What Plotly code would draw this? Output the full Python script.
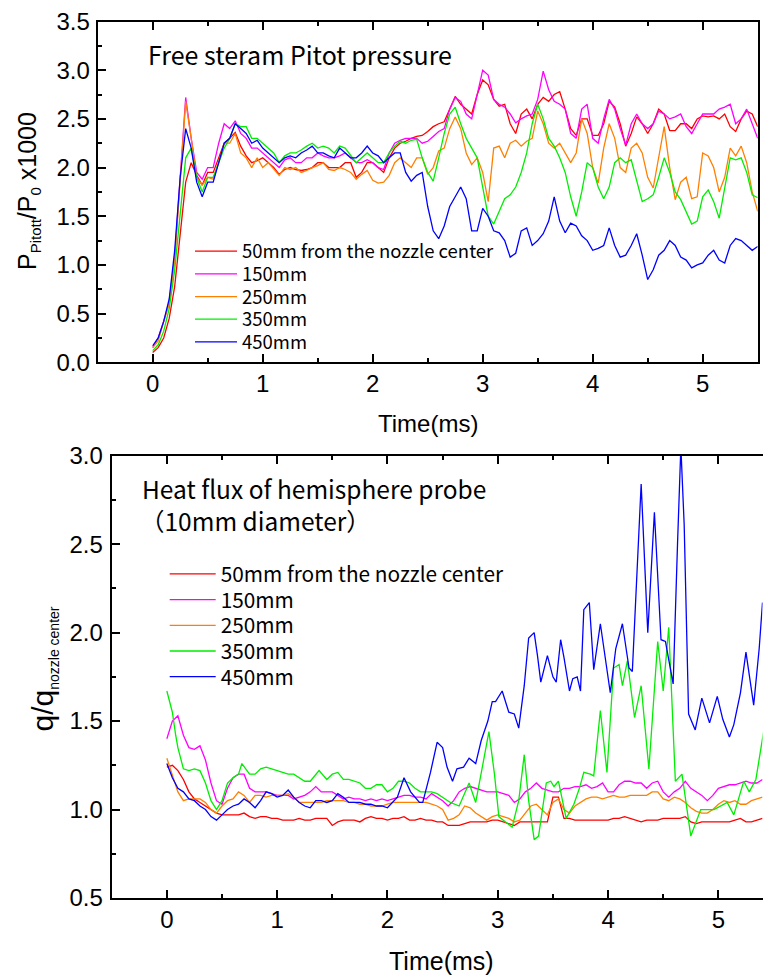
import plotly.graph_objects as go

W, H = 763, 977

# ---------------- data: top panel (Pitot pressure, x1000) ----------------
T_STEP = 0.05
p_50 = [0.10,0.15,0.25,0.45,0.78,1.30,1.85,2.05,1.92,1.82,1.95,1.95,2.10,2.25,2.30,2.36,2.22,2.12,2.05,2.07,
        2.10,2.05,2.00,1.93,1.98,2.00,1.98,1.97,1.98,2.00,2.05,2.05,2.00,2.00,2.00,2.05,2.05,1.90,1.95,2.05,
        2.05,2.00,
        1.95,2.10,2.20,2.25,2.27,2.30,2.32,2.33,2.37,2.42,2.45,2.47,2.60,2.73,2.65,2.60,2.55,2.75,2.90,2.85,
        2.70,2.63,2.65,2.45,2.35,2.55,2.60,2.50,2.65,2.72,2.68,2.75,2.78,2.60,2.40,2.33,2.50,2.50,2.33,2.33,
        2.45,2.68,2.62,2.45,2.22,2.35,2.52,2.45,2.35,2.45,2.60,2.55,2.38,2.38,2.45,2.45,2.40,2.50,2.53,2.52,
        2.53,2.50,2.55,2.42,2.37,2.50,2.58,2.55,2.42]
p_150 = [0.15,0.25,0.42,0.62,1.08,1.95,2.72,2.30,1.95,1.88,2.00,2.00,2.25,2.45,2.40,2.48,2.35,2.30,2.20,2.20,
         2.15,2.10,2.05,2.00,2.08,2.10,2.05,2.05,2.10,2.10,2.15,2.12,2.10,2.10,2.12,2.15,2.10,2.05,2.05,2.08,
         2.05,2.00,
         1.98,2.15,2.25,2.28,2.30,2.30,2.30,2.25,2.27,2.32,2.37,2.40,2.60,2.72,2.68,2.55,2.50,2.75,3.00,2.95,
         2.70,2.65,2.62,2.55,2.46,2.50,2.53,2.55,2.70,2.99,2.80,2.68,2.65,2.60,2.35,2.30,2.60,2.65,2.30,2.25,
         2.50,2.70,2.60,2.40,2.23,2.45,2.55,2.45,2.40,2.45,2.58,2.55,2.50,2.52,2.55,2.42,2.35,2.45,2.55,2.55,
         2.55,2.60,2.62,2.65,2.45,2.50,2.60,2.45,2.30]
p_250 = [0.15,0.22,0.42,0.60,1.05,1.85,2.68,2.30,1.90,1.82,1.90,1.88,2.05,2.25,2.25,2.35,2.15,2.10,2.00,2.10,
         2.00,2.05,1.98,1.92,2.00,1.98,2.00,1.95,1.97,2.00,2.02,2.05,1.98,1.97,2.00,1.98,1.95,1.88,1.93,1.97,
         1.87,1.84,
         1.85,1.92,2.05,2.10,2.05,2.00,2.10,2.10,1.93,2.00,2.17,2.20,2.40,2.52,2.40,2.15,2.03,2.10,1.95,1.65,
         2.20,2.22,2.10,2.25,2.28,2.22,2.27,2.30,2.58,2.45,2.25,2.20,2.25,2.15,2.05,2.15,2.50,2.35,2.00,1.84,
         2.20,2.45,2.30,2.00,1.95,2.20,2.25,2.15,1.90,1.79,2.10,2.42,2.00,1.67,1.85,1.90,1.68,1.70,2.15,2.12,
         2.00,1.75,1.90,2.20,2.12,2.22,2.05,1.75,1.55]
p_350 = [0.12,0.18,0.32,0.55,0.95,1.55,2.10,2.20,1.90,1.75,1.90,1.90,2.05,2.20,2.30,2.45,2.42,2.42,2.30,2.30,
         2.25,2.20,2.15,2.05,2.12,2.15,2.15,2.18,2.22,2.25,2.20,2.22,2.20,2.15,2.22,2.20,2.12,2.05,2.10,2.15,
         2.10,2.05,
         2.05,2.15,2.22,2.27,2.25,2.28,2.29,2.10,1.95,1.86,2.10,2.35,2.55,2.62,2.45,2.30,2.20,2.10,1.80,1.50,
         1.42,1.55,1.68,1.72,1.80,1.95,2.15,2.45,2.65,2.50,2.30,2.22,2.10,1.95,1.70,1.50,1.75,2.05,2.00,1.80,
         1.68,1.80,2.05,2.10,2.05,2.08,1.85,1.65,1.68,1.72,1.90,2.10,1.95,1.75,1.67,1.55,1.42,1.45,1.70,1.77,
         1.65,1.48,1.80,2.10,2.08,2.10,1.95,1.72,1.69]
p_450 = [0.17,0.25,0.42,0.65,1.15,1.90,2.40,2.20,1.85,1.70,1.85,1.85,2.05,2.25,2.30,2.45,2.40,2.35,2.25,2.28,
         2.20,2.15,2.10,2.05,2.10,2.12,2.10,2.15,2.18,2.22,2.15,2.15,2.12,2.10,2.20,2.15,2.10,2.10,2.15,2.22,
         2.15,2.12,
         2.05,2.10,2.15,2.15,1.95,1.86,1.92,1.95,1.60,1.35,1.27,1.40,1.60,1.70,1.80,1.68,1.35,1.35,1.58,1.50,
         1.35,1.33,1.25,1.08,1.12,1.35,1.38,1.20,1.25,1.32,1.45,1.70,1.45,1.33,1.43,1.40,1.30,1.25,1.15,1.17,
         1.20,1.38,1.20,1.08,1.10,1.20,1.32,1.10,0.85,0.95,1.10,1.15,1.25,1.20,1.08,1.05,0.97,1.00,1.02,1.10,
         1.15,1.05,1.02,1.20,1.27,1.25,1.20,1.15,1.19]

# ---------------- data: bottom panel (q / q_nozzle center) ----------------
q_50 = [1.24,1.25,1.22,1.17,1.10,1.06,1.04,1.02,1.00,0.98, 0.97,0.97,0.97,0.97,0.98,0.96,0.95,0.96,0.96,0.95,
        0.95,0.94,0.94,0.94,0.95,0.94,0.94,0.95,0.95,0.95, 0.91,0.93,0.94,0.94,0.94,0.93,0.95,0.96,0.95,0.95,
        0.94,0.95,0.95,0.96,0.94,0.94,0.95,0.94,0.94,0.93, 0.93,0.91,0.91,0.91,0.92,0.93,0.93,0.93,0.93,0.94,
        0.94,0.93,0.92,0.91,0.93,0.93,0.93,0.93,0.93,0.93, 1.07,1.07,0.95,0.95,0.94,0.94,0.94,0.94,0.94,0.94,
        0.94,0.95,0.95,0.96,0.95,0.94,0.93,0.94,0.94,0.94, 0.95,0.95,0.95,0.95,0.96,0.93,0.92,0.93,0.93,0.93,
        0.93,0.93,0.93,0.94,0.95,0.93,0.93,0.94,0.95]
q_150 = [1.40,1.50,1.53,1.42,1.35,1.34,1.36,1.28,1.15,1.05, 1.03,1.12,1.18,1.20,1.20,1.12,1.10,1.10,1.10,1.09,
         1.08,1.08,1.08,1.06,1.07,1.08,1.10,1.13,1.10,1.10, 1.10,1.08,1.06,1.07,1.06,1.06,1.05,1.06,1.05,1.06,
         1.05,1.06,1.07,1.08,1.08,1.07,1.07,1.06,1.09,1.07, 1.05,1.02,1.05,1.10,1.12,1.13,1.12,1.11,1.10,1.10,
         1.10,1.09,1.08,1.04,1.06,1.10,1.12,1.15,1.12,1.11, 1.10,1.10,1.12,1.12,1.13,1.13,1.14,1.12,1.13,1.15,
         1.10,1.10,1.14,1.16,1.16,1.15,1.15,1.12,1.15,1.16, 1.10,1.07,1.10,1.12,1.16,1.12,1.10,1.08,1.05,1.08,
         1.12,1.13,1.14,1.14,1.15,1.16,1.15,1.15,1.17]
q_250 = [1.29,1.20,1.10,1.05,1.06,1.06,1.06,1.04,1.00,0.98, 1.02,1.05,1.06,1.10,1.08,1.04,1.08,1.08,1.07,1.08,
         1.08,1.08,1.09,1.07,1.04,1.04,1.04,1.04,1.04,1.05, 1.05,1.05,1.05,1.04,1.04,1.03,1.03,1.02,1.02,1.02,
         1.03,1.04,1.04,1.04,1.04,1.04,1.04,1.04,1.03,1.02, 1.00,0.94,0.95,0.97,1.02,1.01,0.98,0.96,0.94,0.96,
         0.97,0.96,0.95,0.93,0.94,0.98,1.02,1.03,1.00,0.97, 1.04,1.06,1.00,0.98,1.02,1.04,1.06,1.07,1.07,1.06,
         1.07,1.08,1.07,1.07,1.08,1.08,1.08,1.08,1.10,1.10, 1.06,1.05,1.07,1.06,1.04,1.01,0.99,0.98,0.98,1.00,
         1.03,1.05,1.04,1.05,1.03,1.03,1.05,1.06,1.07]
t_q350 = [0,0.05,0.08,0.1,0.15,0.2,0.25,0.3,0.35,0.4, 0.45,0.5,0.55,0.6,0.65,0.68,0.75,0.8,0.85,0.9,
          0.95,1.0,1.05,1.1,1.15,1.2,1.25,1.3,1.35,1.38, 1.45,1.5,1.55,1.6,1.65,1.7,1.75,1.8,1.85,1.9,
          1.95,2.0,2.05,2.1,2.15,2.2,2.25,2.3,2.4,2.45, 2.5,2.57,2.65,2.74,2.8,2.86,2.92,2.97,3.01,3.07,
          3.13,3.19,3.24,3.28,3.33,3.37,3.44,3.48,3.51,3.55, 3.62,3.69,3.74,3.78,3.84,3.87,3.93,3.99,4.05,4.1,
          4.13,4.175,4.24,4.3,4.37,4.45,4.5,4.55,4.61,4.67, 4.75,4.84,4.96,5.08,5.14,5.23,5.28,5.34,5.41]
q_350 = [1.67,1.55,1.42,1.35,1.23,1.22,1.23,1.22,1.15,1.05, 1.00,1.05,1.15,1.18,1.20,1.26,1.20,1.20,1.23,1.24,
         1.23,1.22,1.21,1.20,1.20,1.18,1.16,1.16,1.20,1.22, 1.17,1.20,1.21,1.17,1.17,1.16,1.15,1.12,1.12,1.14,
         1.14,1.10,1.12,1.16,1.16,1.15,1.12,1.10,1.10,1.09, 1.07,1.04,1.02,1.15,1.04,1.23,1.44,1.20,0.96,0.93,
         0.90,1.05,1.31,1.05,0.83,0.85,1.15,1.16,1.13,1.16, 0.95,1.03,1.12,1.21,1.20,1.19,1.56,1.21,1.80,1.82,
         1.70,1.84,1.52,1.70,1.23,1.95,1.67,2.03,1.16,1.20, 0.85,1.00,1.00,1.04,0.97,1.16,1.10,1.17,1.44]
t_q450 = [0,0.05,0.1,0.15,0.2,0.25,0.3,0.35,0.4,0.45, 0.5,0.55,0.6,0.65,0.7,0.75,0.8,0.85,0.9,0.95,
          1.0,1.05,1.1,1.15,1.2,1.25,1.3,1.35,1.4,1.45, 1.5,1.55,1.6,1.65,1.7,1.75,1.8,1.85,1.9,1.95,
          2.0,2.09,2.15,2.21,2.29,2.32,2.39,2.45,2.5,2.54, 2.59,2.63,2.69,2.74,2.8,2.85,2.91,2.95,2.98,3.04,
          3.1,3.15,3.19,3.24,3.28,3.33,3.36,3.39,3.45,3.5, 3.53,3.57,3.6,3.65,3.68,3.72,3.75,3.78,3.83,3.87,
          3.93,3.98,4.02,4.07,4.13,4.19,4.22,4.3,4.36,4.42, 4.48,4.52,4.55,4.59,4.63,4.66,4.69,4.73,4.79,4.85,
          4.92,4.99,5.04,5.1,5.14,5.2,5.25,5.32,5.37,5.4]
q_450 = [1.26,1.18,1.12,1.10,1.06,1.05,1.02,1.00,0.96,0.94, 0.97,1.00,1.02,1.03,1.06,1.04,1.01,1.05,1.10,1.09,
         1.07,1.08,1.11,1.07,1.04,1.02,1.01,1.05,1.05,1.04, 1.05,1.09,1.07,1.04,1.04,1.04,1.03,1.03,1.02,1.02,
         1.01,1.07,1.18,1.10,1.04,1.04,1.21,1.38,1.35,1.24, 1.16,1.23,1.24,1.29,1.26,1.39,1.50,1.61,1.61,1.67,
         1.55,1.54,1.46,1.70,1.97,2.00,1.87,1.72,1.87,1.75, 1.72,1.96,1.86,1.67,1.74,1.75,1.67,2.13,2.17,1.79,
         2.05,1.84,1.66,1.91,2.05,1.80,1.78,2.84,2.00,2.68, 1.96,1.95,1.85,1.71,2.51,3.05,2.61,1.54,1.45,1.63,
         1.49,1.64,1.51,1.41,1.48,1.66,1.89,1.59,1.91,2.17]

names = ["50mm from the nozzle center", "150mm", "250mm", "350mm", "450mm"]
colors = ["#FF0000", "#FF00FF", "#FF8000", "#00EE00", "#0000FF"]

def grid(vals):
    return [round(i * T_STEP, 3) for i in range(len(vals))]

top_series = [(grid(p_50), p_50), (grid(p_150), p_150), (grid(p_250), p_250),
              (grid(p_350), p_350), (grid(p_450), p_450)]
bot_series = [(grid(q_50), q_50), (grid(q_150), q_150), (grid(q_250), q_250),
              (t_q350, q_350), (t_q450, q_450)]

NUM_FONT = "Liberation Sans, Arial, sans-serif"
JP_FONT = "Noto Sans CJK JP, Noto Sans, sans-serif"

def px(xp):
    return xp / W

def py(yp):
    return 1 - yp / H

fig = go.Figure()
layout_legends = {}
top_rows = [251.7, 274.3, 297.0, 319.6, 342.3]
bot_rows = [574.4, 600.1, 625.8, 651.5, 677.2]
k = 1
for i, (t, v) in enumerate(top_series):
    lg = "legend" if k == 1 else f"legend{k}"
    fig.add_trace(go.Scatter(x=t, y=v, mode="lines", name=names[i],
                             line=dict(color=colors[i], width=1.3),
                             xaxis="x", yaxis="y", legend=lg))
    layout_legends[lg] = dict(x=px(190), y=py(top_rows[i]), xanchor="left", yanchor="middle",
                              bgcolor="rgba(0,0,0,0)", itemwidth=42,
                              font=dict(family=JP_FONT, size=18.5, color="black"))
    k += 1
for i, (t, v) in enumerate(bot_series):
    lg = f"legend{k}"
    fig.add_trace(go.Scatter(x=t, y=v, mode="lines", name=names[i],
                             line=dict(color=colors[i], width=1.3),
                             xaxis="x2", yaxis="y2", legend=lg))
    layout_legends[lg] = dict(x=px(164.7), y=py(bot_rows[i]), xanchor="left", yanchor="middle",
                              bgcolor="rgba(0,0,0,0)", itemwidth=46,
                              font=dict(family=JP_FONT, size=20.8, color="black"))
    k += 1

def axis(**kw):
    base = dict(showline=True, linecolor="black", linewidth=2, ticks="inside", ticklen=8,
                tickwidth=1.5, tickcolor="black", showgrid=False, zeroline=False,
                tickfont=dict(family=NUM_FONT, size=24, color="black"))
    base.update(kw)
    return base

fig.update_layout(
    width=W, height=H, margin=dict(l=0, r=0, t=0, b=0, autoexpand=False),
    paper_bgcolor="white", plot_bgcolor="white", showlegend=True,
    xaxis=axis(domain=[px(97.7), px(757.7)], range=[-0.5, 5.5], dtick=1, tick0=0,
               mirror="ticks", anchor="y", ticklabelstandoff=-1,
               minor=dict(ticks="inside", ticklen=4, tickwidth=1.5, tickcolor="black", dtick=0.5, tick0=0)),
    yaxis=axis(domain=[py(362.3), py(21.5)], range=[0, 3.5], dtick=0.5, tick0=0, tickformat=".1f",
               mirror=True, anchor="x", ticklabelstandoff=1,
               minor=dict(ticks="inside", ticklen=4, tickwidth=1.5, tickcolor="black", dtick=0.25, tick0=0)),
    xaxis2=axis(domain=[px(111.7), px(762.5)], range=[-0.5, 5.4], dtick=1, tick0=0,
                mirror="ticks", anchor="y2", ticklabelstandoff=-1,
                minor=dict(ticks="inside", ticklen=4, tickwidth=1.5, tickcolor="black", dtick=0.5, tick0=0)),
    yaxis2=axis(domain=[py(898), py(455.7)], range=[0.5, 3.0], dtick=0.5, tick0=0, tickformat=".1f",
                mirror=True, anchor="x2", ticklabelstandoff=2,
                minor=dict(ticks="inside", ticklen=4, tickwidth=1.5, tickcolor="black", dtick=0.25, tick0=0)),
    **layout_legends,
)

ann = [
    dict(text="Time(ms)", x=px(427.7), y=py(423), xanchor="center", yanchor="middle",
         font=dict(family=NUM_FONT, size=24, color="black")),
    dict(text="Time(ms)", x=px(441), y=py(961), xanchor="center", yanchor="middle",
         font=dict(family=NUM_FONT, size=25, color="black")),
    dict(text="P<sub><span style='font-size:15px'>Pitott</span></sub>/P<sub><span style='font-size:15px'>0</span></sub> x1000",
         x=px(28.5), y=py(191.5), xanchor="center", yanchor="middle", textangle=-90,
         font=dict(family=NUM_FONT, size=25, color="black")),
    dict(text="q/q<sub><span style='font-size:14px'>nozzle center</span></sub>",
         x=px(43.5), y=py(669), xanchor="center", yanchor="middle", textangle=-90,
         font=dict(family=NUM_FONT, size=30, color="black")),
    dict(text="Free steram Pitot pressure", x=px(145.7), y=py(54), xanchor="left", yanchor="middle",
         font=dict(family=JP_FONT, size=25, color="black")),
    dict(text="Heat flux of hemisphere probe", x=px(140), y=py(489), xanchor="left", yanchor="middle",
         font=dict(family=JP_FONT, size=24.5, color="black")),
    dict(text="（10mm diameter）", x=px(138), y=py(520), xanchor="left", yanchor="middle",
         font=dict(family=JP_FONT, size=24.5, color="black")),
]
for a in ann:
    a.update(xref="paper", yref="paper", showarrow=False)
fig.update_layout(annotations=ann)

fig.write_html("out.html")
